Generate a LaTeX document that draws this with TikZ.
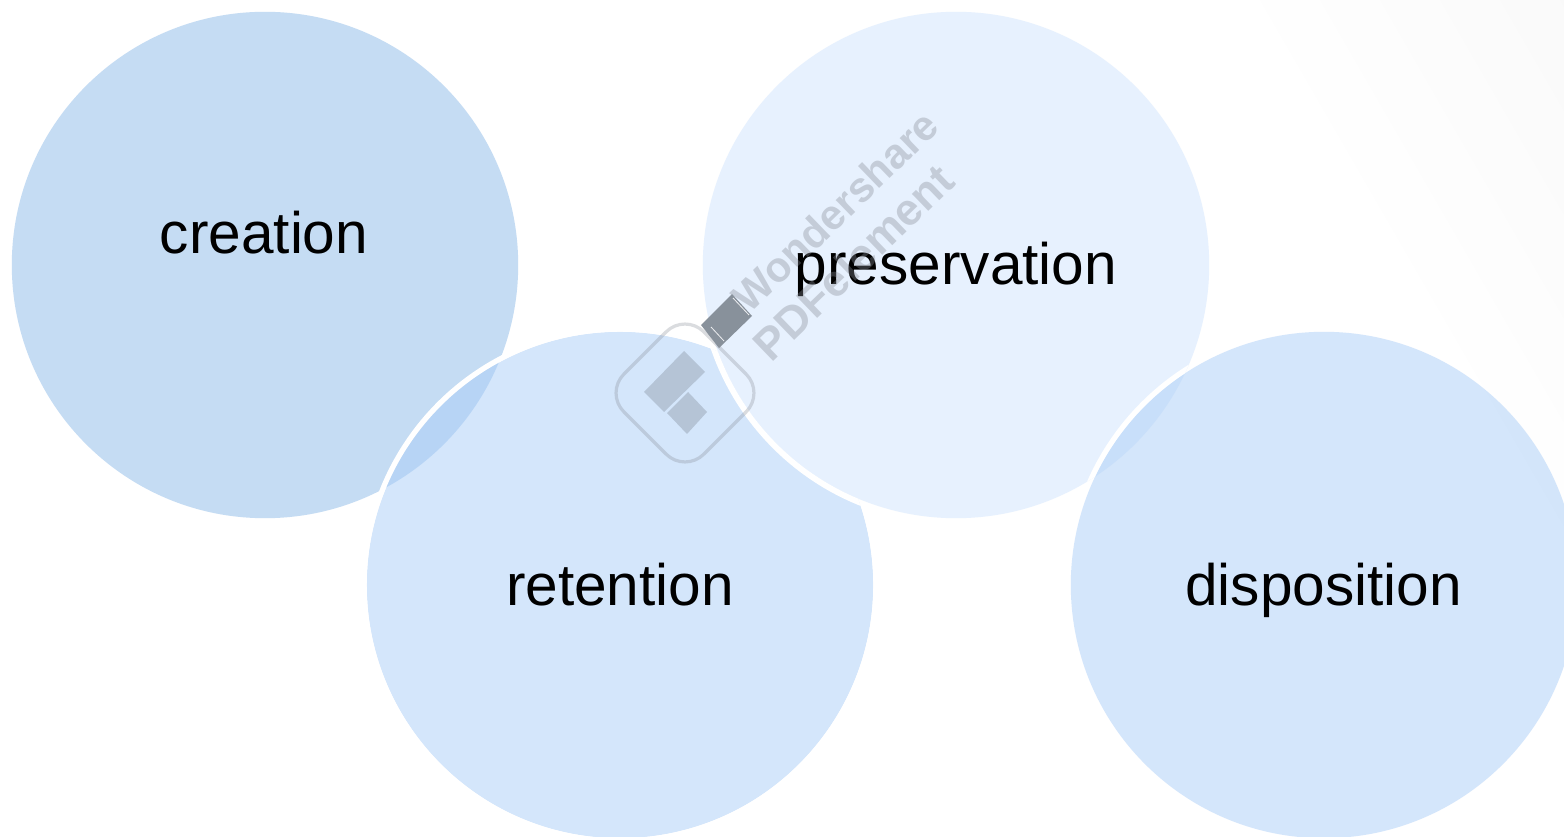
\documentclass[tikz,border=0pt]{standalone}
\usepackage{fontspec}
\setmainfont{Liberation Sans}
\begin{document}
\begin{tikzpicture}[x=.75pt,y=-.75pt,
  label text/.style={font=\fontsize{43.9pt}{50pt}\selectfont,text=black,inner sep=0pt,anchor=base},
  mark text/.style={text=markgray,text opacity=.36,inner sep=0pt,rotate=44,anchor=center}]
\definecolor{creationblue}{RGB}{197,220,243}
\definecolor{overblue}{RGB}{170,206,248}
\definecolor{presblue}{RGB}{231,241,254}
\definecolor{markgray}{RGB}{135,140,150}
\definecolor{logogray}{RGB}{135,145,160}
\definecolor{stampgray}{RGB}{136,145,155}
\useasboundingbox (0,0) rectangle (1564,837);
\clip (0,0) rectangle (1564,837);
\fill[white] (0,0) rectangle (1564,837);
% faint corner tint
\begin{scope}
\clip (1230,0) -- (1564,0) -- (1564,580) -- cycle;
\shade[top color=black!3,bottom color=white,middle color=white,shading angle=-60] (997,-110) rectangle (1797,690);
\end{scope}
% creation
\fill[creationblue] (265,265) circle[radius=189.9pt];
% retention
\fill[overblue,fill opacity=.5] (620,585) circle[radius=189.9pt];
\draw[white,line width=3.9pt] (620,585) circle[radius=191.9pt];
% preservation
\fill[presblue] (956,265) circle[radius=189.9pt];
\begin{scope}
\clip (620,585) circle[radius=189.9pt];
\draw[white,line width=4.4pt] (956,265) circle[radius=192.1pt];
\end{scope}
% disposition
\fill[overblue,fill opacity=.5] (1324,585) circle[radius=189.9pt];
\begin{scope}
\clip (956,265) circle[radius=189.9pt];
\draw[white,line width=3.9pt] (1324,585) circle[radius=191.9pt];
\end{scope}
% labels
\node[label text] (creation) at (264,254) {creation};
\node[label text] (preservation) at (956,285) {preservation};
\node[label text] (retention) at (620,605) {retention};
\node[label text] (disposition) at (1323.5,605) {disposition};
% watermark
\node[mark text,font=\bfseries\fontsize{31.5pt}{34pt}\selectfont] (wm1) at (835,211) {Wondershare};
\node[mark text,font=\bfseries\fontsize{33.5pt}{38pt}\selectfont] (wm2) at (853,262) {PDFelement};
\draw[markgray,opacity=.3,line width=2.4pt,rounded corners=20pt]
  (685,313) -- (765,393) -- (685,473) -- (605,393) -- cycle;
\fill[logogray,opacity=.4] (684,351) -- (705,372) -- (664,412) -- (644,392) -- cycle;
\fill[logogray,opacity=.4] (667,413) -- (688,392) -- (689,393) -- (707,412) -- (687,434) -- cycle;
\fill[stampgray] (732,294) -- (752,316) -- (719,348) -- (701,325) -- cycle;
\draw[white!85!stampgray,line width=.6pt] (733,298) -- (749,315) (711,327) -- (724,341);
\end{tikzpicture}
\end{document}
